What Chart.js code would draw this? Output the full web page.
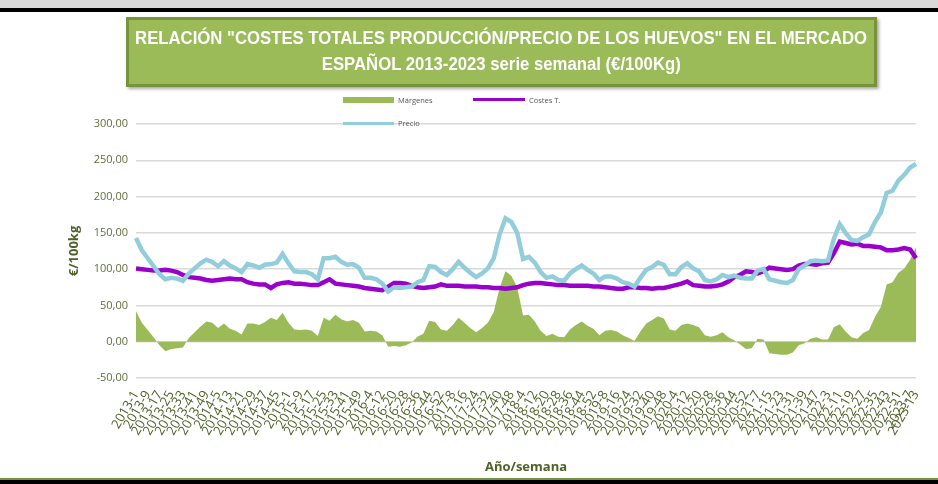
<!DOCTYPE html>
<html>
<head>
<meta charset="utf-8">
<script src="https://cdn.jsdelivr.net/npm/chart.js@4.4.0/dist/chart.umd.min.js"></script>
<style>
  html, body { margin: 0; padding: 0; background: #fff; }
  #wrap { position: relative; width: 938px; height: 484px; overflow: hidden; background: #fff; }
  #topbar { position: absolute; left: 0; top: 0; width: 938px; height: 8px; background: #d9d9d9; }
  #topline { position: absolute; left: 0; top: 8px; width: 938px; height: 4px; background: #000; }
  #botline1 { position: absolute; left: 0; top: 478px; width: 938px; height: 2px; background: #77933c; }
  #botline2 { position: absolute; left: 0; top: 480px; width: 938px; height: 4px; background: #000; }
  #titulo {
    position: absolute; left: 126px; top: 17px; width: 745px; height: 59px;
    background: #9bbb59; border: 3px solid #77933c;
    box-shadow: 2px 2px 3px rgba(0,0,0,0.35);
    color: #fff; font-family: "Liberation Sans", sans-serif;
    font-weight: bold; font-size: 18px; line-height: 26px;
    padding-top: 5px; white-space: nowrap;
  }
  #titulo .linea { display: flex; justify-content: center; width: 745px; }
  #titulo span { display: inline-block; transform-origin: center center; }
  .leg { position: absolute; font-family: "Open Sans", sans-serif; font-size: 7.5px; color: #595959; line-height: 10px; }
  canvas { position: absolute; left: 0; top: 0; }
</style>
</head>
<body>
<div id="wrap">
  <canvas id="myChart" width="938" height="484"></canvas>
  <div id="topbar"></div>
  <div id="topline"></div>
  <div id="botline1"></div>
  <div id="botline2"></div>
  <div id="titulo">
    <div class="linea"><span id="t1">RELACIÓN "COSTES TOTALES PRODUCCIÓN/PRECIO DE LOS HUEVOS" EN EL MERCADO</span></div>
    <div class="linea"><span id="t2">ESPAÑOL 2013-2023 serie semanal (€/100Kg)</span></div>
  </div>
  <!-- leyenda -->
  <div style="position:absolute;left:343px;top:97px;width:51px;height:6px;background:#9bbb59;"></div>
  <div class="leg" style="left:398px;top:95px;">Márgenes</div>
  <div style="position:absolute;left:473px;top:98px;width:52px;height:3px;background:#9900cc;"></div>
  <div class="leg" style="left:529px;top:95px;">Costes T.</div>
  <div style="position:absolute;left:343px;top:122px;width:51px;height:3px;background:#92cddc;"></div>
  <div class="leg" style="left:398px;top:118px;">Precio</div>
</div>
<script>
// semanas (cada 4 semanas aprox.)
const semanas = [
  "2013-1","2013-5","2013-9","2013-13","2013-17","2013-21","2013-25","2013-29","2013-33","2013-37","2013-41","2013-45","2013-49",
  "2014-1","2014-5","2014-9","2014-13","2014-17","2014-21","2014-25","2014-29","2014-33","2014-37","2014-41","2014-45","2014-49",
  "2015-1","2015-5","2015-9","2015-13","2015-17","2015-21","2015-25","2015-29","2015-33","2015-37","2015-41","2015-45","2015-49","2015-53",
  "2016-4","2016-8","2016-12","2016-16","2016-20","2016-24","2016-28","2016-32","2016-36","2016-40","2016-44","2016-48","2016-52",
  "2017-4","2017-8","2017-12","2017-16","2017-20","2017-24","2017-28","2017-32","2017-36","2017-40","2017-44","2017-48","2017-52",
  "2018-4","2018-8","2018-12","2018-16","2018-20","2018-24","2018-28","2018-32","2018-36","2018-40","2018-44","2018-48","2018-52",
  "2019-4","2019-8","2019-12","2019-16","2019-20","2019-24","2019-28","2019-32","2019-36","2019-40","2019-44","2019-48","2019-52",
  "2020-4","2020-8","2020-12","2020-16","2020-20","2020-24","2020-28","2020-32","2020-36","2020-40","2020-44","2020-48","2020-52",
  "2021-3","2021-7","2021-11","2021-15","2021-19","2021-23","2021-27","2021-31","2021-35","2021-39","2021-43","2021-47","2021-51",
  "2022-3","2022-7","2022-11","2022-15","2022-19","2022-23","2022-27","2022-31","2022-35","2022-39","2022-43","2022-47","2022-51",
  "2023-3","2023-7","2023-13"
];

const precio = [
  143,126,115,104,93,86,88,87,84,94,101,108,113,
  110,104,111,105,101,96,107,105,102,106,107,109,121,
  108,97,96,96,93,86,115,115,117,110,106,107,102,88,
  88,86,80,69,75,74,75,76,82,85,104,103,96,
  92,100,110,102,95,89,94,101,115,148,170,165,150,
  114,117,109,96,88,90,85,84,94,100,105,99,94,
  85,90,90,87,82,80,76,88,99,103,109,106,93,
  93,103,108,101,97,85,83,86,92,89,91,88,87,
  87,98,100,86,84,82,81,85,100,105,111,112,111,
  112,142,162,150,140,139,144,148,165,178,205,208,222,
  230,240,245
];

const costes = [
  101,100,99,98,98,99,98,96,92,89,88,87,85,
  84,85,86,87,86,86,82,80,79,79,74,79,81,
  82,80,80,79,78,78,82,86,80,79,78,77,76,74,
  73,72,71,76,81,81,80,77,75,74,75,76,79,
  77,77,77,76,76,76,75,75,74,74,73,74,75,
  78,80,81,81,80,79,78,78,77,77,77,77,76,
  76,75,74,73,73,75,75,74,74,73,74,74,76,
  78,80,83,78,77,76,76,77,79,83,89,92,97,
  96,94,97,102,101,100,99,100,105,107,107,106,108,
  109,122,138,136,134,135,132,132,131,130,126,126,127,
  129,127,115
];

const margenes = [
  42,26,16,6,-5,-13,-10,-9,-8,5,13,21,28,
  26,19,25,18,15,10,25,25,23,27,33,30,40,
  26,17,16,17,15,8,33,29,37,31,28,30,26,14,
  15,14,9,-7,-6,-7,-5,-1,7,11,29,27,17,
  15,23,33,26,19,13,19,26,41,74,97,91,75,
  36,37,28,15,8,11,7,6,17,23,28,22,18,
  9,15,16,14,9,5,1,14,25,30,35,32,17,
  15,23,25,23,20,9,7,9,13,6,2,-4,-10,
  -9,4,3,-16,-17,-18,-18,-15,-5,-2,4,6,3,
  3,20,24,14,6,4,12,16,34,48,79,82,95,
  101,113,130
];

const yTicks = [-50, 0, 50, 100, 150, 200, 250, 300];

// el titulo original es una letra estrecha: se comprime para que quepa
const t1 = document.getElementById('t1');
const t2 = document.getElementById('t2');
let factor = 732 / t1.getBoundingClientRect().width;
if (!isFinite(factor) || factor <= 0) factor = 0.92;
t1.style.transform = `scaleX(${factor})`;
t2.style.transform = `scaleX(${factor})`;

const verde = "#4f6228";
const ctx = document.getElementById('myChart');

new Chart(ctx, {
  type: 'line',
  data: {
    labels: semanas,
    datasets: [
      {
        label: 'Precio',
        data: precio,
        borderColor: '#92cddc',
        borderWidth: 4.5,
        pointRadius: 0,
        tension: 0,
        fill: false,
        order: 1
      },
      {
        label: 'Costes T.',
        data: costes,
        borderColor: '#9900cc',
        borderWidth: 4.5,
        pointRadius: 0,
        tension: 0,
        fill: false,
        order: 2
      },
      {
        label: 'Márgenes',
        data: margenes,
        borderColor: '#9bbb59',
        backgroundColor: '#9bbb59',
        borderWidth: 0,
        pointRadius: 0,
        tension: 0,
        fill: 'origin',
        order: 3
      }
    ]
  },
  options: {
    responsive: false,
    animation: false,
    layout: { padding: { top: 124, left: 66, right: 22, bottom: 5 } },
    plugins: {
      legend: { display: false },
      tooltip: { enabled: false }
    },
    scales: {
      x: {
        grid: { display: false },
        border: { display: false },
        ticks: {
          autoSkip: false,
          minRotation: 60,
          maxRotation: 60,
          color: verde,
          font: { family: 'Open Sans', size: 13 },
          padding: 2,
          callback: function (value, index) {
            if (index % 2 === 0 || index === semanas.length - 1) {
              return semanas[index];
            }
            return '';
          }
        },
        title: {
          display: true,
          text: 'Año/semana',
          color: verde,
          font: { family: 'Open Sans', size: 13, weight: 'bold' },
          padding: { top: 2, bottom: 4 }
        },
        afterFit: function (scale) {
          scale.height = 101;
        }
      },
      y: {
        min: -50,
        max: 300,
        afterBuildTicks: function (scale) {
          scale.ticks = yTicks.map(v => ({ value: v }));
        },
        grid: { color: '#d9d9d9', lineWidth: 1.5, drawTicks: false },
        border: { display: false },
        ticks: {
          color: '#5f6f3a',
          font: { family: 'Open Sans', size: 11 },
          padding: 8,
          callback: function (v) {
            return v.toFixed(2).replace('.', ',');
          }
        },
        title: {
          display: true,
          text: '€/100kg',
          color: verde,
          font: { family: 'Open Sans', size: 13, weight: 'bold' },
          padding: { top: 0, bottom: 2 }
        },
        afterFit: function (scale) {
          scale.width = 70;
        }
      }
    }
  }
});
</script>
</body>
</html>
